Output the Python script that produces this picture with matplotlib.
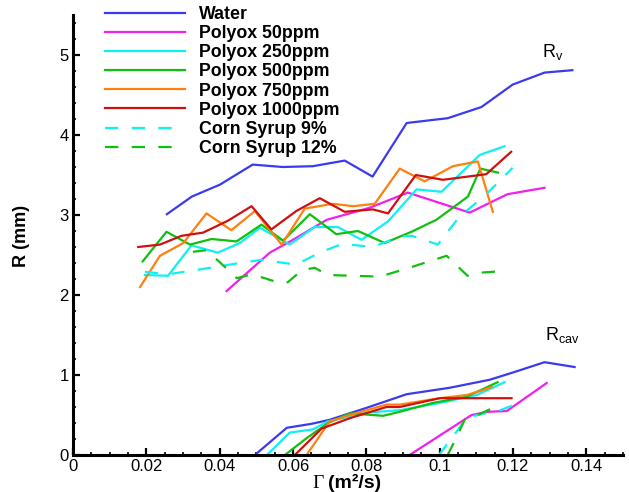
import numpy as np
import matplotlib
matplotlib.use("Agg")
import matplotlib.pyplot as plt
from matplotlib.lines import Line2D
from matplotlib.ticker import MultipleLocator, FixedLocator, FixedFormatter

plt.rcParams['font.family'] = ['Liberation Sans', 'DejaVu Sans']
plt.rcParams['mathtext.fontset'] = 'custom'
plt.rcParams['mathtext.rm'] = 'Liberation Sans'
plt.rcParams['mathtext.bf'] = 'Liberation Sans:bold'

# ── dados: R_v (curvas de cima) ─────────────────────────────────────────────
water_rv_x = [0.0256, 0.0324, 0.0401, 0.0490, 0.0572, 0.0654, 0.0741, 0.0817, 0.0910, 0.1022, 0.1114, 0.1199, 0.1286, 0.1362]
water_rv_y = [3.01, 3.23, 3.38, 3.63, 3.60, 3.61, 3.68, 3.48, 4.15, 4.21, 4.35, 4.63, 4.78, 4.81]

p50_rv_x = [0.0419, 0.0537, 0.0600, 0.0692, 0.0809, 0.0913, 0.1082, 0.1185, 0.1286]
p50_rv_y = [2.05, 2.53, 2.69, 2.94, 3.09, 3.28, 3.03, 3.26, 3.34]

p250_rv_x = [0.0196, 0.0259, 0.0323, 0.0395, 0.0455, 0.0510, 0.0591, 0.0659, 0.0722, 0.0787, 0.0859, 0.0937, 0.1005, 0.1109, 0.1177]
p250_rv_y = [2.25, 2.24, 2.62, 2.53, 2.65, 2.84, 2.63, 2.85, 2.85, 2.69, 2.92, 3.32, 3.29, 3.75, 3.86]

p500_rv_x = [0.0190, 0.0255, 0.0319, 0.0378, 0.0446, 0.0514, 0.0573, 0.0646, 0.0718, 0.0777, 0.0850, 0.0923, 0.0991, 0.1077, 0.1111, 0.1159]
p500_rv_y = [2.42, 2.79, 2.63, 2.70, 2.67, 2.88, 2.68, 3.01, 2.76, 2.80, 2.65, 2.79, 2.94, 3.23, 3.58, 3.53]

p750_rv_x = [0.0183, 0.0237, 0.0301, 0.0364, 0.0432, 0.0496, 0.0569, 0.0632, 0.0709, 0.0764, 0.0823, 0.0891, 0.0959, 0.1036, 0.1104, 0.1145]
p750_rv_y = [2.10, 2.49, 2.65, 3.02, 2.81, 3.05, 2.63, 3.08, 3.14, 3.11, 3.14, 3.58, 3.42, 3.61, 3.67, 3.04]

p1000_rv_x = [0.0178, 0.0237, 0.0296, 0.0355, 0.0423, 0.0487, 0.0541, 0.0609, 0.0673, 0.0741, 0.0818, 0.0859, 0.0935, 0.1009, 0.1127, 0.1195]
p1000_rv_y = [2.60, 2.63, 2.74, 2.78, 2.93, 3.11, 2.82, 3.05, 3.21, 3.04, 3.07, 3.02, 3.50, 3.44, 3.51, 3.79]

cs9_rv_x = [0.0196, 0.0259, 0.0319, 0.0387, 0.0455, 0.0515, 0.0608, 0.0678, 0.0735, 0.0817, 0.0891, 0.0924, 0.0995, 0.1054, 0.1123, 0.1199]
cs9_rv_y = [2.29, 2.26, 2.30, 2.35, 2.40, 2.44, 2.38, 2.54, 2.64, 2.60, 2.73, 2.74, 2.63, 2.98, 3.24, 3.59]

cs12_rv_x = [0.0327, 0.0365, 0.0447, 0.0488, 0.0564, 0.0586, 0.0624, 0.0659, 0.0695, 0.0763, 0.0837, 0.0910, 0.1019, 0.1076, 0.1114, 0.1177]
cs12_rv_y = [2.54, 2.56, 2.21, 2.26, 2.15, 2.16, 2.31, 2.34, 2.25, 2.24, 2.23, 2.33, 2.49, 2.24, 2.28, 2.30]

# ── dados: R_cav (curvas de baixo) ──────────────────────────────────────────
water_cav_x = [0.0496, 0.0583, 0.0651, 0.0700, 0.0801, 0.0910, 0.1027, 0.1136, 0.1199, 0.1286, 0.1368]
water_cav_y = [0.00, 0.34, 0.39, 0.44, 0.59, 0.76, 0.84, 0.94, 1.03, 1.16, 1.10]

p50_cav_x = [0.0918, 0.1087, 0.1131, 0.1183, 0.1292]
p50_cav_y = [0.00, 0.50, 0.54, 0.55, 0.90]

p250_cav_x = [0.0529, 0.0591, 0.0654, 0.0695, 0.0801, 0.0891, 0.1000, 0.1101, 0.1177]
p250_cav_y = [0.00, 0.28, 0.32, 0.42, 0.53, 0.56, 0.65, 0.75, 0.91]

p500_cav_x = [0.0578, 0.0637, 0.0696, 0.0755, 0.0846, 0.0891, 0.0981, 0.1074, 0.1158]
p500_cav_y = [0.00, 0.21, 0.40, 0.52, 0.49, 0.54, 0.65, 0.73, 0.91]

p750_cav_x = [0.0637, 0.0700, 0.0755, 0.0855, 0.0891, 0.1000, 0.1074, 0.1117, 0.1142]
p750_cav_y = [0.00, 0.42, 0.50, 0.63, 0.63, 0.71, 0.75, 0.81, 0.85]

p1000_cav_x = [0.0605, 0.0678, 0.0755, 0.0855, 0.0891, 0.1000, 0.1196]
p1000_cav_y = [0.00, 0.33, 0.46, 0.60, 0.60, 0.71, 0.71]

cs9_cav_x = [0.0998, 0.1054, 0.1076, 0.1123, 0.1165, 0.1222]
cs9_cav_y = [0.00, 0.34, 0.47, 0.52, 0.56, 0.66]

cs12_cav_x = [0.1022, 0.1049, 0.1068, 0.1095, 0.1131, 0.1169]
cs12_cav_y = [0.00, 0.25, 0.44, 0.48, 0.56, 0.63]

x_ticks = [0, 0.02, 0.04, 0.06, 0.08, 0.10, 0.12, 0.14]
x_tick_labels = ['0', '0.02', '0.04', '0.06', '0.08', '0.1', '0.12', '0.14']
y_ticks = [0, 1, 2, 3, 4, 5]

# ── estilos ─────────────────────────────────────────────────────────────────
series = [
    ('Water',          '#3a3af0', '-',  water_rv_x, water_rv_y, water_cav_x, water_cav_y),
    ('Polyox 50ppm',   '#f020f0', '-',  p50_rv_x,   p50_rv_y,   p50_cav_x,   p50_cav_y),
    ('Polyox 250ppm',  '#10f0f0', '-',  p250_rv_x,  p250_rv_y,  p250_cav_x,  p250_cav_y),
    ('Polyox 500ppm',  '#10c010', '-',  p500_rv_x,  p500_rv_y,  p500_cav_x,  p500_cav_y),
    ('Polyox 750ppm',  '#ff8010', '-',  p750_rv_x,  p750_rv_y,  p750_cav_x,  p750_cav_y),
    ('Polyox 1000ppm', '#d01010', '-',  p1000_rv_x, p1000_rv_y, p1000_cav_x, p1000_cav_y),
    ('Corn Syrup 9%',  '#10f0f0', (0, (6, 6)), cs9_rv_x,  cs9_rv_y,  cs9_cav_x,  cs9_cav_y),
    ('Corn Syrup 12%', '#10c010', (0, (6, 6)), cs12_rv_x, cs12_rv_y, cs12_cav_x, cs12_cav_y),
]

# ── gráfico ─────────────────────────────────────────────────────────────────
fig = plt.figure(figsize=(6.29, 4.92), dpi=100)
ax = fig.add_axes([73 / 629, 37 / 492, 550 / 629, 440 / 492])

handles = []
for label, cor, estilo, xr, yr, xc, yc in series:
    ax.plot(xr, yr, color=cor, linestyle=estilo, linewidth=1.6)
    ax.plot(xc, yc, color=cor, linestyle=estilo, linewidth=1.6)
    handles.append(Line2D([], [], color=cor, linestyle=estilo, linewidth=1.6, label=label))

ax.set_xlim(0, 0.15)
ax.set_ylim(0, 5.5)
ax.xaxis.set_major_locator(FixedLocator(x_ticks))
ax.xaxis.set_major_formatter(FixedFormatter(x_tick_labels))
ax.xaxis.set_minor_locator(MultipleLocator(0.005))
ax.yaxis.set_major_locator(FixedLocator(y_ticks))
ax.yaxis.set_minor_locator(MultipleLocator(0.2))

for s in ['top', 'right']:
    ax.spines[s].set_visible(False)
for s in ['left', 'bottom']:
    ax.spines[s].set_linewidth(2.2)
ax.tick_params(which='major', direction='in', length=5, width=1.6, labelsize=12, pad=3)
ax.tick_params(which='minor', direction='in', length=2.5, width=1.2)

ax.text(0.1278, 4.975, r'$\mathrm{R_{v}}$', fontsize=13, ha='left', va='baseline')
ax.text(0.1286, 1.44, r'$\mathrm{R_{cav}}$', fontsize=13, ha='left', va='baseline')

fig.text(22 / 629, 1 - 236 / 492, 'R (mm)', rotation=90, fontsize=13, fontweight='bold',
         ha='center', va='center')
fig.text(324 / 629, 1 - 488 / 492, 'Γ', family='Liberation Serif', fontsize=14,
         ha='right', va='baseline')
fig.text(328 / 629, 1 - 488 / 492, '(m²/s)', fontsize=14, fontweight='bold',
         ha='left', va='baseline')

ax.legend(handles=handles, loc='upper left', bbox_to_anchor=(105 / 629, 1 - 6 / 492),
          bbox_transform=fig.transFigure, frameon=False, borderpad=0, borderaxespad=0,
          handlelength=4.5, handletextpad=0.8, labelspacing=0.12,
          prop={'weight': 'bold', 'size': 12.8})

fig.savefig("out.png", dpi=100)
